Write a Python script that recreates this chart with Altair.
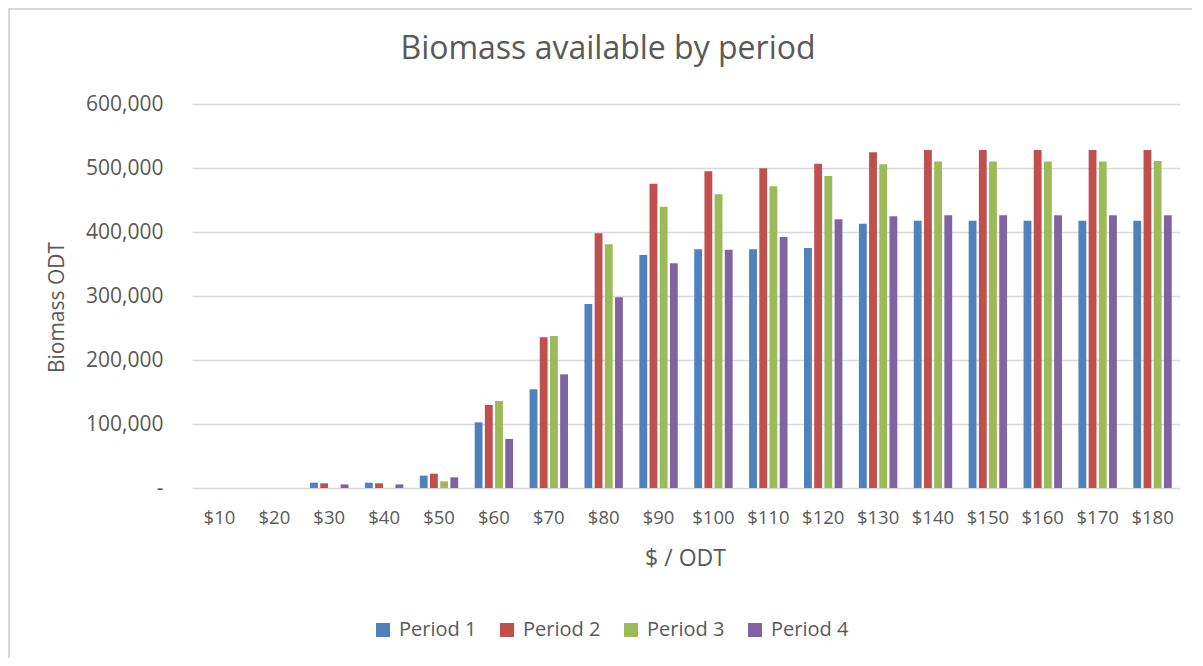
import altair as alt
import pandas as pd

prices = ["$10", "$20", "$30", "$40", "$50", "$60", "$70", "$80", "$90", "$100",
          "$110", "$120", "$130", "$140", "$150", "$160", "$170", "$180"]
periods = ["Period 1", "Period 2", "Period 3", "Period 4"]
colors = ["#4F81BD", "#C0504D", "#9BBB59", "#8064A2"]

period1 = [0, 0, 8300, 8300, 19300, 102600, 154200, 287500, 364000, 372900,
           372900, 375000, 413000, 417700, 417700, 417700, 417700, 417700]
period2 = [0, 0, 7300, 7300, 22400, 129700, 235400, 397900, 475500, 494800,
           499500, 506800, 524500, 528000, 528000, 528000, 528000, 528000]
period3 = [0, 0, 0, 0, 10400, 135900, 237500, 380700, 439600, 458900,
           471400, 487500, 505700, 510000, 510000, 510000, 510000, 511000]
period4 = [0, 0, 5700, 5700, 16700, 76600, 177600, 297900, 351000, 372400,
           392200, 419800, 424500, 426000, 426000, 426000, 426000, 426000]

y_ticks = [0, 100000, 200000, 300000, 400000, 500000, 600000]
chart_title = "Biomass available by period"

rows = []
for name, vals in zip(periods, [period1, period2, period3, period4]):
    for p, v in zip(prices, vals):
        rows.append({"price": p, "period": name, "value": v})
df = pd.DataFrame(rows)

FONT = "Open Sans"
TXT = "#595959"
W, H = 988, 384

bars = alt.Chart(df).mark_bar().encode(
    x=alt.X("price:N", sort=prices,
            scale=alt.Scale(paddingInner=0.3, paddingOuter=0.15),
            axis=alt.Axis(title="$ / ODT", labelAngle=0, labelFontSize=18.5,
                          labelFont=FONT, labelColor=TXT, labelPadding=20,
                          ticks=False, tickSize=0, domain=False,
                          titleFont=FONT, titleFontSize=23, titleColor=TXT,
                          titleFontWeight="normal", titleX=493, titleY=70,
                          titleBaseline="middle", titleAlign="center")),
    xOffset=alt.XOffset("period:N", sort=periods,
                        scale=alt.Scale(paddingInner=0.23, paddingOuter=0)),
    y=alt.Y("value:Q", scale=alt.Scale(domain=[0, 600000], nice=False),
            axis=alt.Axis(title="Biomass ODT", values=y_ticks,
                          labelExpr="datum.value == 0 ? '-\u00a0\u00a0' : format(datum.value, ',')",
                          labelFontSize=21, labelFont=FONT, labelColor=TXT,
                          labelPadding=29, ticks=False, tickSize=0, domain=False,
                          grid=True, gridColor="#D9D9D9", gridWidth=1.5,
                          titleFont=FONT, titleFontSize=21, titleColor=TXT,
                          titleFontWeight="normal", titleX=-135, titleY=203,
                          titleBaseline="middle", titleAlign="center")),
    color=alt.Color("period:N", sort=periods,
                    scale=alt.Scale(domain=periods, range=colors),
                    legend=alt.Legend(title=None, orient="none", direction="horizontal",
                                      legendX=181, legendY=516,
                                      symbolType="square", symbolSize=196,
                                      symbolStrokeWidth=0, labelFont=FONT,
                                      labelFontSize=20, labelColor=TXT,
                                      labelOffset=6, columnPadding=20)),
)

one = pd.DataFrame({"k": [0]})
title_text = alt.Chart(one).mark_text(
    font=FONT, fontSize=32, color=TXT, align="center", baseline="middle"
).encode(x=alt.value(416), y=alt.value(-55), text=alt.value(chart_title))

left_border = alt.Chart(one).mark_rule(color="#D9D9D9", strokeWidth=2).encode(
    x=alt.value(-183), y=alt.value(-95), y2=alt.value(554))
top_border = alt.Chart(one).mark_rule(color="#D9D9D9", strokeWidth=2).encode(
    x=alt.value(-184), x2=alt.value(1000), y=alt.value(-95))

chart = alt.layer(bars, title_text, left_border, top_border).properties(
    width=W, height=H,
    autosize=alt.AutoSizeParams(type="none"),
    padding={"left": 184, "top": 96, "right": 15, "bottom": 170},
    background="white",
).configure_view(stroke=None)

chart.save("out.html", embed_options={"renderer": "svg", "actions": False})
